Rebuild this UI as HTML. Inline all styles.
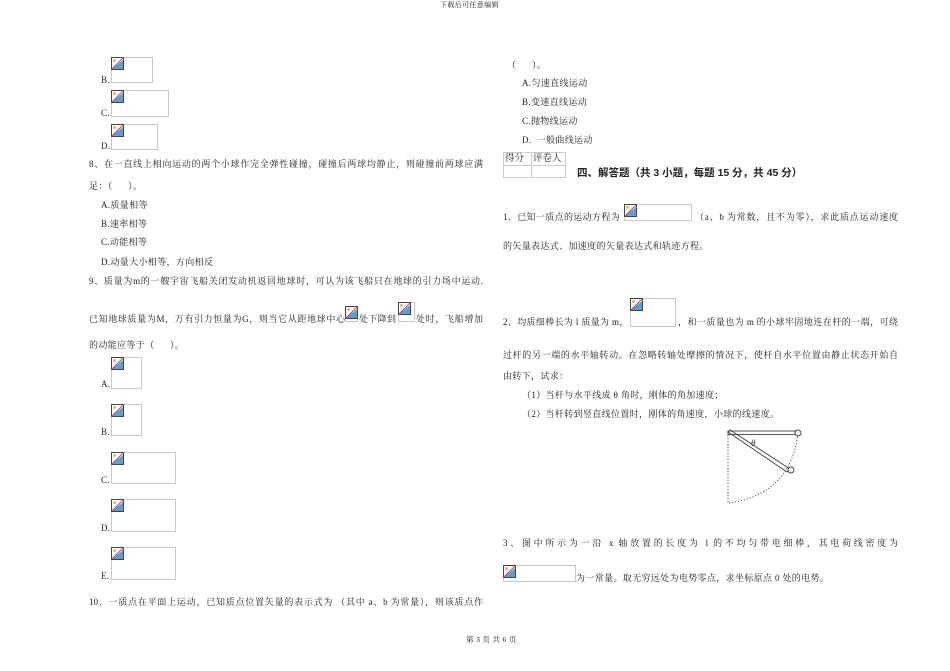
<!DOCTYPE html>
<html><head><meta charset="utf-8"><style>
body{margin:0;width:950px;height:671px;background:#fff;position:relative;overflow:hidden;font-family:"Liberation Serif","Noto Serif CJK SC","Noto Sans CJK SC",serif;color:#222}
.t{position:absolute;white-space:nowrap;font-size:9px;line-height:10px;letter-spacing:0.35px}
.j{text-align:justify;text-align-last:justify;letter-spacing:0}
.b{position:absolute;border:1px solid #c8c8c8;box-sizing:border-box}
.b svg{position:absolute;left:-1px;top:-1px}
</style></head><body>
<svg width="0" height="0" style="position:absolute"><defs><g id="ic"><rect x="0.5" y="0.5" width="12" height="12" fill="#fff" stroke="#444"/><polygon points="1,12 12,3 12,12" fill="#5aa0d8"/><circle cx="3.5" cy="3.5" r="1.5" fill="#e8b070"/><line x1="0.5" y1="12.5" x2="12.5" y2="0.5" stroke="#d04040" stroke-width="1"/></g></defs></svg>

<div class="t" style="left:440px;top:0;font-size:7px">下载后可任意编辑</div>

<div class="t" style="left:101px;top:75px">B.</div>
<div class="b" style="left:111px;top:57px;width:42px;height:26px"><svg width="13" height="13"><use href="#ic"/></svg></div>
<div class="t" style="left:101px;top:108px">C.</div>
<div class="b" style="left:111px;top:90px;width:58px;height:27px"><svg width="13" height="13"><use href="#ic"/></svg></div>
<div class="t" style="left:101px;top:141px">D.</div>
<div class="b" style="left:111px;top:124px;width:47px;height:26px"><svg width="13" height="13"><use href="#ic"/></svg></div>

<div class="t j" style="left:89px;top:159px;width:394px">8、在一直线上相向运动的两个小球作完全弹性碰撞，碰撞后两球均静止，则碰撞前两球应满</div>
<div class="t" style="left:89px;top:181px">足：（&nbsp;&nbsp;&nbsp;&nbsp;&nbsp;&nbsp;）。</div>
<div class="t" style="left:101px;top:200px">A.质量相等</div>
<div class="t" style="left:101px;top:219px">B.速率相等</div>
<div class="t" style="left:101px;top:237px">C.动能相等</div>
<div class="t" style="left:101px;top:257px">D.动量大小相等，方向相反</div>
<div class="t j" style="left:89px;top:276px;width:394px">9、质量为m的一艘宇宙飞船关闭发动机返回地球时，可认为该飞船只在地球的引力场中运动.</div>
<div class="t j" style="left:89px;top:314px;width:256px">已知地球质量为M，万有引力恒量为G，则当它从距地球中心</div>
<div class="b" style="left:345px;top:306px;width:13px;height:16px"><svg width="13" height="13"><use href="#ic"/></svg></div>
<div class="t" style="left:359px;top:314px">处下降到</div>
<div class="b" style="left:398px;top:302px;width:17px;height:20px"><svg width="13" height="13"><use href="#ic"/></svg></div>
<div class="t j" style="left:416px;top:314px;width:67px">处时，飞船增加</div>
<div class="t" style="left:89px;top:340px">的动能应等于（&nbsp;&nbsp;&nbsp;&nbsp;&nbsp;&nbsp;）。</div>

<div class="t" style="left:101px;top:379px">A.</div>
<div class="b" style="left:111px;top:357px;width:31px;height:32px"><svg width="13" height="13"><use href="#ic"/></svg></div>
<div class="t" style="left:101px;top:427px">B.</div>
<div class="b" style="left:111px;top:404px;width:31px;height:32px"><svg width="13" height="13"><use href="#ic"/></svg></div>
<div class="t" style="left:101px;top:475px">C.</div>
<div class="b" style="left:111px;top:452px;width:65px;height:32px"><svg width="13" height="13"><use href="#ic"/></svg></div>
<div class="t" style="left:101px;top:523px">D.</div>
<div class="b" style="left:111px;top:499px;width:65px;height:33px"><svg width="13" height="13"><use href="#ic"/></svg></div>
<div class="t" style="left:101px;top:571px">E.</div>
<div class="b" style="left:111px;top:547px;width:65px;height:33px"><svg width="13" height="13"><use href="#ic"/></svg></div>

<div class="t j" style="left:89px;top:597px;width:394px">10、一质点在平面上运动，已知质点位置矢量的表示式为 （其中 a、b 为常量），则该质点作</div>

<div class="t" style="left:466px;top:635px;font-size:7.5px">第 3 页 共 6 页</div>

<!-- right column -->
<div class="t" style="left:507px;top:60px">（&nbsp;&nbsp;&nbsp;&nbsp;&nbsp;&nbsp;）。</div>
<div class="t" style="left:522px;top:78px">A.匀速直线运动</div>
<div class="t" style="left:522px;top:97px">B.变速直线运动</div>
<div class="t" style="left:522px;top:116px">C.抛物线运动</div>
<div class="t" style="left:522px;top:135px">D.&nbsp;&nbsp;一般曲线运动</div>

<div style="position:absolute;left:503px;top:152px;width:63px;height:26px;border:1px solid #ccc;box-sizing:border-box"></div>
<div style="position:absolute;left:531px;top:152px;width:1px;height:26px;background:#ccc"></div>
<div style="position:absolute;left:503px;top:165px;width:63px;height:1px;background:#ccc"></div>
<div class="t" style="left:505px;top:154px;font-size:9.5px;letter-spacing:0">得分</div>
<div class="t" style="left:533px;top:154px;font-size:9.5px;letter-spacing:0">评卷人</div>
<div class="t" style="left:577px;top:168px;font-size:10.5px;letter-spacing:0;font-weight:bold;font-family:'Liberation Sans','Noto Sans CJK SC',sans-serif">四、解答题（共 3 小题，每题 15 分，共 45 分）</div>

<div class="t" style="left:503px;top:212px">1、已知一质点的运动方程为</div>
<div class="b" style="left:624px;top:204px;width:68px;height:17px"><svg width="13" height="13"><use href="#ic"/></svg></div>
<div class="t j" style="left:695px;top:212px;width:203px">（a、b 为常数，且不为零），求此质点运动速度</div>
<div class="t" style="left:503px;top:241px">的矢量表达式、加速度的矢量表达式和轨迹方程。</div>

<div class="t" style="left:503px;top:317px">2、均质细棒长为 l 质量为 m，</div>
<div class="b" style="left:630px;top:298px;width:46px;height:29px"><svg width="13" height="13"><use href="#ic"/></svg></div>
<div class="t j" style="left:678px;top:317px;width:220px">，和一质量也为 m 的小球牢固地连在杆的一端，可绕</div>
<div class="t j" style="left:503px;top:350px;width:395px">过杆的另一端的水平轴转动。在忽略转轴处摩擦的情况下，使杆自水平位置由静止状态开始自</div>
<div class="t" style="left:503px;top:371px">由转下，试求：</div>
<div class="t" style="left:522px;top:390px">（1）当杆与水平线成 θ 角时，刚体的角加速度；</div>
<div class="t" style="left:522px;top:409px">（2）当杆转到竖直线位置时，刚体的角速度，小球的线速度。</div>

<svg style="position:absolute;left:720px;top:425px" width="90" height="85">
<g fill="none" stroke="#444" stroke-width="0.9">
<line x1="8" y1="7" x2="8" y2="78" stroke-dasharray="1.2,1.8"/>
<path d="M78 9 Q70 70 8 78" stroke-dasharray="1.2,1.8"/>
<rect x="8" y="6" width="67" height="3.5"/>
<circle cx="78" cy="8" r="3" fill="#eee"/>
<polygon points="8,7 10,5 70,44 67,47"/>
<circle cx="71" cy="45" r="3" fill="#eee"/>
</g>
<text x="31" y="21" font-size="9" font-style="italic" font-family="Liberation Serif,serif" fill="#333">θ</text>
</svg>

<div class="t j" style="left:503px;top:538px;width:395px">3、图中所示为一沿 x 轴放置的长度为 l 的不均匀带电细棒，其电荷线密度为</div>
<div class="b" style="left:503px;top:565px;width:73px;height:17px"><svg width="13" height="13"><use href="#ic"/></svg></div>
<div class="t" style="left:576px;top:573px">为一常量。取无穷远处为电势零点，求坐标原点 0 处的电势。</div>
</body></html>
